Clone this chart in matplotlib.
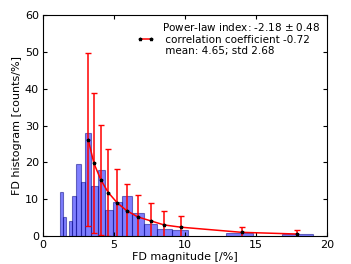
import numpy as np
import matplotlib
matplotlib.use('Agg')
import matplotlib.pyplot as plt
from matplotlib.lines import Line2D

# histogram bins (left edge, right edge, counts/%)
bin_left = [1.22, 1.41, 1.80, 2.06, 2.35, 2.65, 2.98, 3.38, 3.86, 4.40, 4.93,
            5.55, 6.29, 7.08, 8.00, 9.06, 12.9, 16.8]
bin_right = [1.41, 1.62, 2.06, 2.35, 2.65, 2.98, 3.38, 3.86, 4.40, 4.93, 5.55,
             6.29, 7.08, 8.00, 9.06, 10.2, 14.8, 19.0]
counts = [12.0, 5.2, 4.2, 11.0, 19.5, 14.6, 27.9, 13.7, 17.9, 7.1, 9.3,
          10.9, 6.2, 3.2, 2.0, 1.6, 0.7, 0.6]

# power-law fit points with errors
fit_x = [3.19, 3.59, 4.08, 4.60, 5.23, 5.89, 6.67, 7.60, 8.54, 9.70, 14.0, 17.9]
fit_y = [26.1, 19.7, 15.2, 11.8, 9.0, 6.9, 5.2, 4.1, 3.0, 2.4, 1.0, 0.54]
fit_err = [23.5, 19.0, 15.0, 11.7, 9.2, 7.2, 6.0, 4.8, 3.9, 3.0, 1.5, 1.1]

label = ("Power-law index: -2.18 $\\pm$ 0.48\n correlation coefficient -0.72\n"
         " mean: 4.65; std 2.68")

fig = plt.figure(figsize=(3.51, 2.64), dpi=100)
ax = fig.add_axes([0.1225, 0.106, 0.809, 0.837])

widths = np.array(bin_right) - np.array(bin_left)
ax.bar(bin_left, counts, width=widths, align='edge', facecolor='blue',
       edgecolor='navy', alpha=0.5, linewidth=0.8)

ax.errorbar(fit_x, fit_y, yerr=fit_err, fmt='-', color='red', lw=1.1,
            elinewidth=1.1, capsize=2, ecolor='red', marker='*', ms=2.5,
            mec='k', mfc='k')

handle = Line2D([], [], color='red', lw=1.1, marker='*', ms=2.5,
                mec='k', mfc='k')
ax.legend([handle], [label], loc='upper right', frameon=False, fontsize=7.5,
          numpoints=2, handlelength=1.6, handletextpad=0.8,
          borderaxespad=0.2)

ax.set_xlim(0, 20)
ax.set_ylim(0, 60)
ax.set_xticks([0, 5, 10, 15, 20])
ax.set_yticks([0, 10, 20, 30, 40, 50, 60])
ax.tick_params(direction='in', top=True, right=True, labelsize=8, length=3,
               pad=3)
ax.set_xlabel('FD magnitude [/%]', fontsize=8, labelpad=1)
ax.set_ylabel('FD histogram [counts/%]', fontsize=8, labelpad=2)

fig.savefig('out.png', dpi=100)
